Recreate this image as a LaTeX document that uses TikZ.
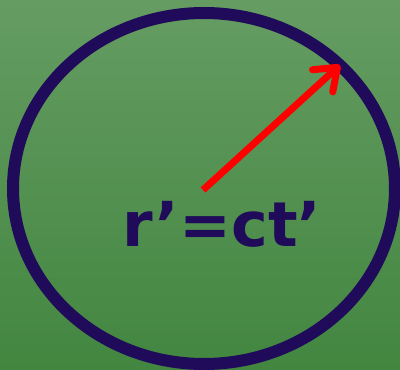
\documentclass[tikz,border=0pt]{standalone}
\usepackage{fontspec}
\setmainfont{DejaVu Sans}
\usetikzlibrary{arrows.meta}
\definecolor{bgtop}{RGB}{101,156,98}
\definecolor{bgbot}{RGB}{66,134,64}
\definecolor{navy}{RGB}{32,10,90}
\definecolor{arrowred}{RGB}{255,0,0}
\tikzset{
  ring/.style={draw=navy, line width=12pt},
  radius arrow/.style={draw=arrowred, line width=7pt,
    -{Straight Barb[length=20pt,width=30pt,round]}},
  label text/.style={text=navy, font=\bfseries\fontsize{62}{62}\selectfont, inner sep=0pt}
}
\begin{document}
\begin{tikzpicture}[x=1pt,y=-1pt]
  \useasboundingbox (0,0) rectangle (400,370);
  \shade[top color=bgtop, bottom color=bgbot] (0,0) rectangle (400,370);
  \draw[ring] (204,188.5) ellipse [x radius=191, y radius=175.5];
  \coordinate (c) at (203,190);
  \coordinate (p) at (340,65);
  \draw[radius arrow] (c) -- (p);
  \node[label text, anchor=base] (eq) at (222,246) {r’=ct’};
\end{tikzpicture}
\end{document}
